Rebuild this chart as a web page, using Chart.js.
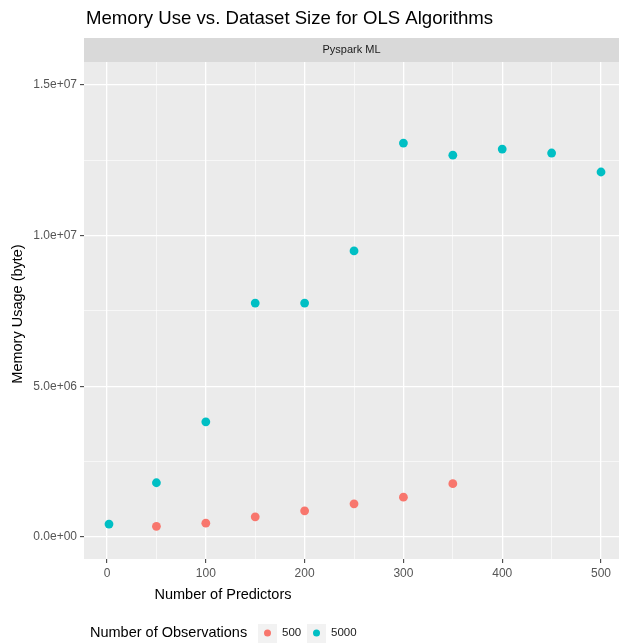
<!DOCTYPE html>
<html>
<head>
<meta charset="utf-8">
<script src="https://cdn.jsdelivr.net/npm/chart.js@4"></script>
<style>
  body { margin: 0; background: #fff; }
  canvas { display: block; }
</style>
</head>
<body>
<canvas id="memChart" width="619" height="644"></canvas>
<script>
// data
const predictors500 = [50, 100, 150, 200, 250, 300, 350];
const memory500 = [355000, 460000, 670000, 870000, 1100000, 1320000, 1770000];
const predictors5000 = [2, 50, 100, 150, 200, 250, 300, 350, 400, 450, 500];
const memory5000 = [430000, 1800000, 3820000, 7760000, 7760000, 9490000, 13070000, 12670000, 12870000, 12740000, 12110000];
const xTicks = [0, 100, 200, 300, 400, 500];
const xMinor = [50, 150, 250, 350, 450];
const yTicks = [0, 5000000, 10000000, 15000000];
const yMinor = [2500000, 7500000, 12500000];
const groupLabels = ["500", "5000"];
const groupColors = ["#F8766D", "#00BFC4"];

const FONT = "'Liberation Sans', Arial, sans-serif";

function toPoints(xs, ys) {
  return xs.map((x, i) => ({ x: x, y: ys[i] }));
}

function sci(v) {
  if (v === 0) return "0.0e+00";
  const e = Math.floor(Math.log10(v) + 1e-9);
  const m = v / Math.pow(10, e);
  return m.toFixed(1) + "e+" + String(e).padStart(2, "0");
}

function setTicks(major, minor) {
  return (scale) => {
    scale.ticks = major.concat(minor).sort((a, b) => a - b).map((v) => ({ value: v }));
  };
}

// ggplot-ish panel, strip, titles and legend
const ggDecor = {
  id: "ggDecor",
  beforeDraw(chart) {
    const { ctx, chartArea: a } = chart;
    ctx.save();
    ctx.fillStyle = "#EBEBEB";
    ctx.fillRect(a.left, a.top, a.right - a.left, a.bottom - a.top);
    // facet strip
    ctx.fillStyle = "#D9D9D9";
    ctx.fillRect(a.left, 38, a.right - a.left, a.top - 38);
    ctx.fillStyle = "#1a1a1a";
    ctx.font = "11px " + FONT;
    ctx.textAlign = "center";
    ctx.textBaseline = "middle";
    ctx.fillText("Pyspark ML", (a.left + a.right) / 2, 50);
    ctx.restore();
  },
  afterDraw(chart) {
    const { ctx } = chart;
    ctx.save();
    ctx.fillStyle = "#000";
    ctx.textBaseline = "middle";
    ctx.font = "18.6px " + FONT;
    ctx.textAlign = "left";
    ctx.fillText("Memory Use vs. Dataset Size for OLS Algorithms", 86, 19);

    ctx.font = "14.5px " + FONT;
    ctx.textAlign = "center";
    ctx.fillText("Number of Predictors", 223, 595);
    ctx.save();
    ctx.translate(18, 314);
    ctx.rotate(-Math.PI / 2);
    ctx.fillText("Memory Usage (byte)", 0, 0);
    ctx.restore();

    // legend
    ctx.textAlign = "left";
    ctx.font = "14.5px " + FONT;
    ctx.fillText("Number of Observations", 90, 633);
    const keys = [258, 307];
    ctx.font = "11.5px " + FONT;
    keys.forEach((kx, i) => {
      ctx.fillStyle = "#F2F2F2";
      ctx.fillRect(kx, 624, 19, 19);
      ctx.fillStyle = groupColors[i];
      ctx.beginPath();
      ctx.arc(kx + 9.5, 633, 3.5, 0, Math.PI * 2);
      ctx.fill();
      ctx.fillStyle = "#1a1a1a";
      ctx.fillText(groupLabels[i], kx + 24, 633);
    });
    ctx.restore();
  }
};

const ctxMem = document.getElementById("memChart");

new Chart(ctxMem, {
  type: "scatter",
  data: {
    datasets: [
      {
        label: groupLabels[0],
        data: toPoints(predictors500, memory500),
        backgroundColor: groupColors[0],
        borderWidth: 0,
        pointRadius: 4.4,
      },
      {
        label: groupLabels[1],
        data: toPoints(predictors5000, memory5000),
        backgroundColor: groupColors[1],
        borderWidth: 0,
        pointRadius: 4.4,
      },
    ],
  },
  options: {
    responsive: false,
    animation: false,
    layout: { autoPadding: false, padding: { top: 62, left: 0, right: 0, bottom: 0 } },
    plugins: {
      legend: { display: false },
      tooltip: { enabled: false },
    },
    scales: {
      x: {
        type: "linear",
        min: -23.3,
        max: 518.2,
        afterBuildTicks: setTicks(xTicks, xMinor),
        afterFit: (s) => { s.height = 85; s.paddingLeft = 0; s.paddingRight = 0; },
        border: { display: false },
        grid: {
          color: "#FFFFFF",
          lineWidth: (c) => (xTicks.includes(c.tick.value) ? 1.3 : 0.6),
          tickColor: (c) => (xTicks.includes(c.tick.value) ? "#333333" : "rgba(0,0,0,0)"),
          tickLength: 4,
          tickWidth: 1,
        },
        ticks: {
          autoSkip: false,
          maxRotation: 0,
          padding: 3,
          color: "#555555",
          font: { family: FONT, size: 12 },
          callback: (v) => (xTicks.includes(v) ? String(v) : ""),
        },
      },
      y: {
        type: "linear",
        min: -730000,
        max: 15760000,
        afterBuildTicks: setTicks(yTicks, yMinor),
        afterFit: (s) => { s.width = 84; s.paddingTop = 0; s.paddingBottom = 0; },
        border: { display: false },
        grid: {
          color: "#FFFFFF",
          lineWidth: (c) => (yTicks.includes(c.tick.value) ? 1.3 : 0.6),
          tickColor: (c) => (yTicks.includes(c.tick.value) ? "#333333" : "rgba(0,0,0,0)"),
          tickLength: 4,
          tickWidth: 1,
        },
        ticks: {
          autoSkip: false,
          padding: 3,
          color: "#555555",
          font: { family: FONT, size: 12 },
          callback: (v) => (yTicks.includes(v) ? sci(v) : ""),
        },
      },
    },
  },
  plugins: [ggDecor],
});
</script>
</body>
</html>
